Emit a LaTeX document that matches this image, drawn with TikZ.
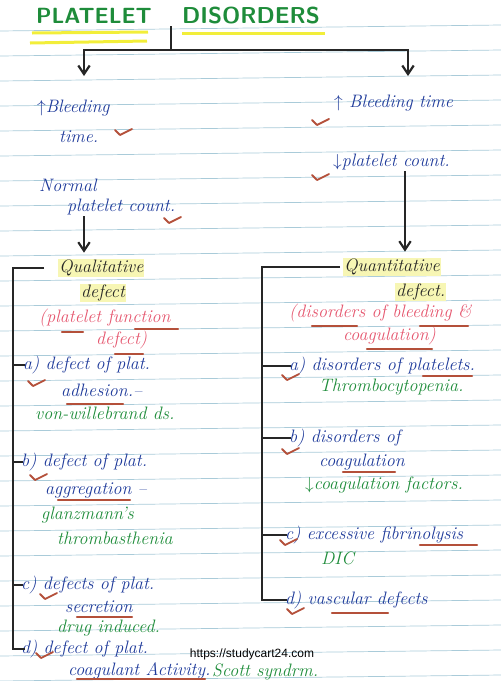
\documentclass[tikz,border=0pt]{standalone}
\usepackage{fontspec}
\usetikzlibrary{arrows.meta}
\newfontfamily\wmfont{Liberation Sans}
\definecolor{inkblue}{HTML}{1E3A9A}
\definecolor{inkgreen}{HTML}{1E8C3A}
\definecolor{inkpink}{HTML}{E5566E}
\definecolor{inkred}{HTML}{B4503A}
\definecolor{ruleblue}{HTML}{A9CBD9}
\definecolor{hilite}{HTML}{F7F6B4}
\definecolor{titleyel}{HTML}{F2EE3A}
\newcommand{\chk}[2]{\draw[inkred,line width=1.8pt,line cap=round,line join=round] (#1-8,#2-3)--(#1-3,#2+2)--(#1+9,#2-4);}
\newcommand{\uline}[3]{\draw[inkred,line width=2.2pt,line cap=round] (#1,#3)--(#2,#3);}
\tikzset{
  hand/.style={font=\fontsize{18}{20}\selectfont\itshape,inner sep=1pt,anchor=west},
  noteb/.style={hand,text=inkblue},
  noteg/.style={hand,text=inkgreen},
  notep/.style={hand,text=inkpink},
  notek/.style={hand,text=black!85,fill=hilite},
  trunk/.style={line width=2.2pt,black!85},
  arr/.style={trunk,-{Straight Barb[length=3mm,width=4mm]}}
}

\begin{document}
\begin{tikzpicture}[x=1pt,y=-1pt]
  \useasboundingbox (0,0) rectangle (501,681);
  % ruled paper
  \foreach \y in {28,53,...,678}
    \draw[ruleblue,line width=0.7pt] (0,\y+3) -- (501,\y-3);

  % title
  \draw[titleyel,line width=3pt] (32,33) -- (148,32);
  \draw[titleyel,line width=3pt] (30,43) -- (147,41);
  \draw[titleyel,line width=3pt] (182,33) -- (325,33);
  \node[font=\sffamily\bfseries\fontsize{22}{24}\selectfont,text=inkgreen,anchor=west,inner sep=0pt] (t1) at (36,16) {PLATELET};
  \node[font=\sffamily\bfseries\fontsize{23}{25}\selectfont,text=inkgreen,anchor=west,inner sep=0pt] (t2) at (182,16) {DISORDERS};
  \coordinate (tstem) at (171,26);
  \coordinate (tsplit) at (171,50);
  \coordinate (lend) at (84,76);
  \coordinate (rend) at (408,76);
  \coordinate (lcol) at (84,0);
  \coordinate (rcol) at (405,0);
  \coordinate (lspine) at (13,0);
  \coordinate (rspine) at (262,0);
  \draw[trunk] (tstem) -- (tsplit);
  \draw[arr] (tsplit) -| (lend);
  \draw[arr] (tsplit) -| (rend);

  % left branch
  \node[noteb] (lbt) at (36,108) {$\uparrow$Bleeding};
  \node[noteb] (ltm) at (58,137) {time.};
  \node[noteb] (lnm) at (38,185) {Normal};
  \node[noteb] (lpc) at (66,207) {platelet count.};
  \node[notek] (ql) at (58,268) {Qualitative};
  \node[notek] (qld) at (80,293) {defect};
  \node[notep] (qlp) at (38,318) {(platelet function};
  \node[notep] (qlp2) at (95,340) {defect)};
  \node[noteb] (la) at (22,365) {a) defect of plat.};
  \node[noteb] (la2) at (60,390) {adhesion.--};
  \node[noteg] (la3) at (34,413) {von-willebrand ds.};
  \node[noteb] (lb) at (20,462) {b) defect of plat.};
  \node[noteb] (lb2) at (44,490) {aggregation --};
  \node[noteg] (lb3) at (40,515) {glanzmann's};
  \node[noteg] (lb4) at (56,538) {thrombasthenia};
  \node[noteb] (lc) at (20,585) {c) defects of plat.};
  \node[noteb] (lc2) at (64,607) {secretion};
  \node[noteg] (lc3) at (56,628) {drug induced.};
  \node[noteb] (ld) at (20,649) {d) defect of plat.};
  \node[noteb,inner sep=0pt] (ld2) at (68,671) {coagulant Activity.};
  \node[noteg,inner sep=0pt] (ld3) at (212,672) {Scott syndrm.};
  \draw[arr] (lpc.south -| lcol) -- ([yshift=6pt]ql.north -| lcol);
  \draw[trunk] ([xshift=-14pt]ql.west) -- (ql.west -| lspine) |- ([xshift=5pt]ld.west);
  \foreach \n in {la,lb,lc}
    \draw[trunk] (\n.west -| lspine) -- ([xshift=3pt]\n.west);

  % right branch
  \node[noteb] (rbt) at (333,103) {$\uparrow$ Bleeding time};
  \node[noteb] (rpc) at (332,162) {$\downarrow$platelet count.};
  \node[notek] (qr) at (343,267) {Quantitative};
  \node[notek] (qrd) at (395,292) {defect.};
  \node[notep] (qrp) at (288,313) {(disorders of bleeding \&};
  \node[notep] (qrp2) at (342,336) {coagulation)};
  \node[noteb] (ra) at (288,366) {a) disorders of platelets.};
  \node[noteg] (ra2) at (318,387) {Thrombocytopenia.};
  \node[noteb] (rb) at (288,438) {b) disorders of};
  \node[noteb] (rb2) at (318,462) {coagulation};
  \node[noteg] (rb3) at (304,485) {$\downarrow$coagulation factors.};
  \node[noteb] (rc) at (284,535) {c) excessive fibrinolysis};
  \node[noteg] (rc2) at (320,558) {DIC};
  \node[noteb] (rd) at (284,600) {d) vascular defects};
  \draw[arr] (rpc.south -| rcol) -- ([yshift=6pt]qr.north -| rcol);
  \draw[trunk] ([xshift=-3pt]qr.west) -- (qr.west -| rspine) |- ([xshift=3pt]rd.west);
  \foreach \n in {ra,rb,rc}
    \draw[trunk] (\n.west -| rspine) -- ([xshift=3pt]\n.west);

  % teacher's ticks and underlines
  \chk{123}{133} \chk{172}{221} \chk{320}{123} \chk{320}{178}
  \chk{36}{384} \chk{38}{478} \chk{48}{597} \chk{44}{656}
  \chk{290}{378} \chk{290}{452} \chk{288}{543} \chk{295}{612}
  \uline{62}{83}{332} \uline{135}{178}{329} \uline{115}{143}{354}
  \uline{67}{123}{404} \uline{58}{130}{500} \uline{77}{132}{617}
  \uline{77}{205}{679}
  \uline{312}{357}{326} \uline{420}{468}{326} \uline{367}{432}{349}
  \uline{423}{472}{376} \uline{343}{395}{472} \uline{420}{477}{545}
  \uline{332}{388}{613}

  \node[font=\wmfont\fontsize{12}{14}\selectfont,inner sep=0pt] (wm) at (252,654) {https://studycart24.com};
\end{tikzpicture}
\end{document}
